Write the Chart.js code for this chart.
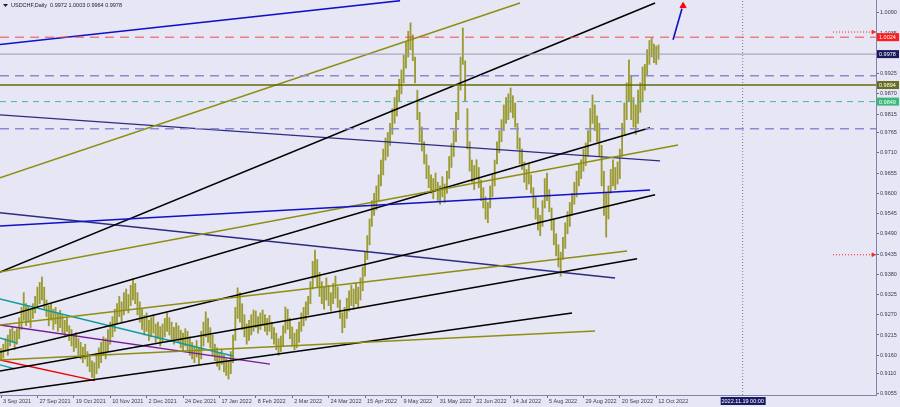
<!DOCTYPE html>
<html>
<head>
<meta charset="utf-8">
<script src="https://cdn.jsdelivr.net/npm/chart.js@4.4.0/dist/chart.umd.min.js"></script>
<style>
  html, body { margin: 0; padding: 0; background: #e6e6f5; }
  #wrap { width: 900px; height: 407px; }
</style>
</head>
<body>
<div id="wrap"><canvas id="usdchfChart" width="900" height="407"></canvas></div>
<script>
// x axis: bar index, 0 = 3 Sep 2021 (one bar per trading day)
const dateLabels = ['3 Sep 2021', '27 Sep 2021', '19 Oct 2021', '10 Nov 2021', '2 Dec 2021', '24 Dec 2021',
    '17 Jan 2022', '8 Feb 2022', '2 Mar 2022', '24 Mar 2022', '15 Apr 2022', '9 May 2022', '31 May 2022',
    '22 Jun 2022', '14 Jul 2022', '5 Aug 2022', '29 Aug 2022', '20 Sep 2022', '12 Oct 2022'];
const dateTickIndex = [0, 16, 32, 48, 64, 80, 96, 112, 128, 144, 160, 176, 192, 208, 224, 240, 256, 272, 288];

const yTickValues = [1.0090, 1.0035, 0.9980, 0.9925, 0.9870, 0.9815, 0.9765, 0.9710, 0.9655, 0.9600,
    0.9545, 0.9490, 0.9435, 0.9380, 0.9325, 0.9270, 0.9215, 0.9160, 0.9110, 0.9055];

// daily lows / highs
const lows = [
    0.9145, 0.9152, 0.9170, 0.9160, 0.9185, 0.9195, 0.9175, 0.9190, 0.9205, 0.9230,
    0.9255, 0.9240, 0.9250, 0.9235, 0.9260, 0.9275, 0.9290, 0.9300, 0.9310, 0.9285,
    0.9265, 0.9240, 0.9255, 0.9230, 0.9245, 0.9225, 0.9235, 0.9220, 0.9210, 0.9225,
    0.9200, 0.9185, 0.9170, 0.9180, 0.9160, 0.9150, 0.9140, 0.9150, 0.9130, 0.9115,
    0.9100, 0.9097, 0.9110, 0.9125, 0.9140, 0.9160, 0.9150, 0.9170, 0.9190, 0.9210,
    0.9225, 0.9245, 0.9265, 0.9250, 0.9270, 0.9285, 0.9275, 0.9295, 0.9310, 0.9300,
    0.9270, 0.9250, 0.9230, 0.9215, 0.9225, 0.9200, 0.9210, 0.9220, 0.9195, 0.9205,
    0.9185, 0.9195, 0.9210, 0.9225, 0.9215, 0.9200, 0.9190, 0.9205, 0.9195, 0.9180,
    0.9170, 0.9185, 0.9175, 0.9160, 0.9150, 0.9140, 0.9155, 0.9135, 0.9150, 0.9185,
    0.9210, 0.9195, 0.9180, 0.9160, 0.9145, 0.9130, 0.9120, 0.9135, 0.9115, 0.9105,
    0.9095, 0.9110, 0.9140, 0.9200, 0.9260, 0.9250, 0.9230, 0.9210, 0.9190, 0.9200,
    0.9215, 0.9225, 0.9235, 0.9220, 0.9230, 0.9240, 0.9225, 0.9215, 0.9225, 0.9205,
    0.9190, 0.9175, 0.9160, 0.9170, 0.9185, 0.9220, 0.9230, 0.9205, 0.9185, 0.9175,
    0.9180, 0.9195, 0.9225, 0.9240, 0.9255, 0.9270, 0.9300, 0.9340, 0.9370, 0.9345,
    0.9320, 0.9300, 0.9285, 0.9310, 0.9295, 0.9280, 0.9300, 0.9315, 0.9290, 0.9260,
    0.9221, 0.9235, 0.9260, 0.9280, 0.9295, 0.9285, 0.9300, 0.9290, 0.9310, 0.9335,
    0.9375, 0.9420, 0.9460, 0.9510, 0.9540, 0.9555, 0.9580, 0.9620, 0.9650, 0.9690,
    0.9700, 0.9730, 0.9760, 0.9790, 0.9810, 0.9850, 0.9870, 0.9900, 0.9940, 0.9970,
    0.9990, 0.9960, 0.9900, 0.9800, 0.9740, 0.9715, 0.9680, 0.9640, 0.9615, 0.9600,
    0.9585, 0.9605, 0.9580, 0.9570, 0.9590, 0.9575, 0.9600, 0.9640, 0.9670, 0.9700,
    0.9740, 0.9800, 0.9880, 0.9950, 0.9850, 0.9720, 0.9660, 0.9630, 0.9610, 0.9640,
    0.9615, 0.9580, 0.9560, 0.9530, 0.9520, 0.9560, 0.9590, 0.9620, 0.9680, 0.9710,
    0.9740, 0.9770, 0.9790, 0.9800, 0.9820, 0.9805, 0.9780, 0.9720, 0.9680, 0.9665,
    0.9630, 0.9610, 0.9625, 0.9600, 0.9560, 0.9530, 0.9500, 0.9485, 0.9510, 0.9560,
    0.9580, 0.9550, 0.9500, 0.9460, 0.9430, 0.9400, 0.9375, 0.9420, 0.9450, 0.9490,
    0.9510, 0.9540, 0.9570, 0.9590, 0.9620, 0.9640, 0.9660, 0.9675, 0.9700, 0.9740,
    0.9790, 0.9770, 0.9740, 0.9700, 0.9620, 0.9540, 0.9481, 0.9530, 0.9600, 0.9620,
    0.9610, 0.9625, 0.9640, 0.9700, 0.9760, 0.9800, 0.9850, 0.9800, 0.9780, 0.9760,
    0.9790, 0.9820, 0.9850, 0.9880, 0.9920, 0.9950, 0.9970, 0.9955, 0.9950, 0.9964
];
const highs = [
    0.9178, 0.9190, 0.9205, 0.9215, 0.9230, 0.9238, 0.9225, 0.9232, 0.9262, 0.9290,
    0.9330, 0.9300, 0.9295, 0.9282, 0.9300, 0.9320, 0.9345, 0.9358, 0.9372, 0.9345,
    0.9310, 0.9295, 0.9300, 0.9285, 0.9290, 0.9275, 0.9282, 0.9268, 0.9255, 0.9262,
    0.9240, 0.9230, 0.9215, 0.9222, 0.9205, 0.9195, 0.9182, 0.9190, 0.9170, 0.9160,
    0.9145, 0.9140, 0.9165, 0.9180, 0.9195, 0.9210, 0.9205, 0.9230, 0.9250, 0.9265,
    0.9285, 0.9300, 0.9320, 0.9305, 0.9330, 0.9340, 0.9325, 0.9350, 0.9368, 0.9355,
    0.9330, 0.9305, 0.9285, 0.9268, 0.9275, 0.9255, 0.9262, 0.9270, 0.9245, 0.9250,
    0.9238, 0.9245, 0.9260, 0.9275, 0.9262, 0.9250, 0.9236, 0.9248, 0.9240, 0.9228,
    0.9220, 0.9232, 0.9225, 0.9210, 0.9195, 0.9185, 0.9200, 0.9180, 0.9225, 0.9250,
    0.9278, 0.9260, 0.9235, 0.9215, 0.9190, 0.9180, 0.9165, 0.9175, 0.9160, 0.9150,
    0.9145, 0.9170, 0.9215, 0.9290, 0.9343, 0.9330, 0.9300, 0.9270, 0.9245, 0.9255,
    0.9270, 0.9283, 0.9280, 0.9265, 0.9275, 0.9283, 0.9270, 0.9260, 0.9268, 0.9250,
    0.9235, 0.9220, 0.9205, 0.9212, 0.9240, 0.9291, 0.9285, 0.9260, 0.9237, 0.9220,
    0.9230, 0.9250, 0.9275, 0.9290, 0.9305, 0.9320, 0.9360, 0.9415, 0.9446, 0.9420,
    0.9385, 0.9360, 0.9345, 0.9370, 0.9350, 0.9330, 0.9355, 0.9375, 0.9345, 0.9310,
    0.9275, 0.9290, 0.9315, 0.9335, 0.9350, 0.9340, 0.9356, 0.9345, 0.9370, 0.9400,
    0.9440, 0.9485, 0.9530, 0.9580, 0.9600, 0.9620, 0.9650, 0.9690, 0.9720, 0.9750,
    0.9765, 0.9790, 0.9830, 0.9860, 0.9880, 0.9910, 0.9935, 0.9975, 1.0010, 1.0040,
    1.0063, 1.0030, 0.9970, 0.9880, 0.9820, 0.9780, 0.9740, 0.9705, 0.9675, 0.9650,
    0.9640, 0.9655, 0.9630, 0.9620, 0.9645, 0.9625, 0.9660, 0.9700, 0.9735, 0.9770,
    0.9820, 0.9890, 0.9970, 1.0049, 0.9960, 0.9830, 0.9740, 0.9690, 0.9675, 0.9691,
    0.9670, 0.9636, 0.9615, 0.9590, 0.9575, 0.9620, 0.9650, 0.9690, 0.9740, 0.9770,
    0.9800, 0.9840, 0.9860, 0.9870, 0.9886, 0.9865, 0.9845, 0.9790, 0.9750, 0.9720,
    0.9685, 0.9665, 0.9680, 0.9650, 0.9615, 0.9590, 0.9560, 0.9540, 0.9580, 0.9640,
    0.9655, 0.9610, 0.9560, 0.9530, 0.9490, 0.9460, 0.9440, 0.9480, 0.9520, 0.9550,
    0.9575, 0.9600, 0.9630, 0.9660, 0.9680, 0.9691, 0.9720, 0.9737, 0.9770, 0.9830,
    0.9867, 0.9840, 0.9810, 0.9790, 0.9730, 0.9660, 0.9600, 0.9620, 0.9665, 0.9691,
    0.9670, 0.9685, 0.9720, 0.9790, 0.9845, 0.9900, 0.9962, 0.9920, 0.9860, 0.9840,
    0.9880, 0.9900, 0.9943, 0.9950, 0.9990, 1.0015, 1.0022, 1.0005, 1.0000, 1.0003
];
const lastBar = [0.9972, 1.0003, 0.9964, 0.9978]; // open high low close

// trend lines: [index1, price1, index2, price2]
const blueLines = [[-0.44, 1.0004, 175.4, 1.0123], [-0.44, 0.9511, 285.3, 0.9609], [295.4, 1.0017, 299.3, 1.0101]];
const oliveLines = [[-0.44, 0.9642, 228.1, 1.0117], [-0.44, 0.9386, 297.6, 0.9731],
    [-0.44, 0.9242, 275.2, 0.9443], [-0.44, 0.9147, 261.1, 0.9226]];
const blackLines = [[-0.44, 0.9386, 287.5, 1.0117], [-0.44, 0.9261, 285.3, 0.9778], [-0.44, 0.9169, 287.5, 0.9596],
    [-0.44, 0.9117, 279.6, 0.9422], [-0.44, 0.9058, 251.0, 0.9275]];
const navyLines = [[-0.44, 0.9813, 289.7, 0.9688], [-0.44, 0.9547, 269.9, 0.9370]];
const tealLines = [[-0.44, 0.9313, 102.0, 0.9158], [-0.44, 0.9207, 7.0, 0.9193], [-0.44, 0.9134, 6.2, 0.9123]];
const purpleLines = [[-0.44, 0.9242, 118.2, 0.9136]];
const redLines = [[-0.44, 0.9147, 41.3, 0.9091]];
const arrowTip = [299.8, 1.0109];

// horizontal levels
const bidLevel = 0.9978;
const redLevel = 1.0024;
const dashLevels = [0.9919, 0.9775];
const oliveLevel = 0.9894;
const tealLevel = 0.9849;
const alertLevels = [1.0038, 0.9433];
const alertStart = 365.7;
const timeLineIndex = 326;
const timeLabel = '2022.11.19 00:00';

const xMin = -0.44, xMax = 384.6;
const yMin = 0.9052, yMax = 1.0125;

Chart.defaults.font.family = 'Liberation Sans';
Chart.defaults.font.size = 5.5;
Chart.defaults.color = '#3a3a55';

function lineSet(list, color, width, dash) {
    return list.map(l => ({
        type: 'line',
        data: [{ x: l[0], y: l[1] }, { x: l[2], y: l[3] }],
        borderColor: color,
        borderWidth: width,
        borderDash: dash || [],
        pointRadius: 0,
        fill: false,
        order: 0
    }));
}
function level(p) { return [[xMin, p, xMax, p]]; }

const bars = lows.map((l, i) => ({ x: i, y: [l, highs[i]] }));

const datasets = [].concat(
    lineSet(level(redLevel), '#f04848', 1, [9, 6]),
    lineSet(level(bidLevel), '#9a9aae', 1),
    lineSet(dashLevels.map(p => [xMin, p, xMax, p]), '#8a8ad0', 1.5, [9, 6]),
    lineSet(level(oliveLevel), '#66680e', 1.5),
    lineSet(level(tealLevel), '#4cb49a', 1, [6, 5]),
    lineSet(alertLevels.map(p => [alertStart, p, xMax, p]), '#ff2020', 1, [1, 2]),
    lineSet([[timeLineIndex, yMin, timeLineIndex, yMax]], '#7c7c90', 1, [1, 2]),
    lineSet(blueLines, '#1010c8', 1.6),
    lineSet(oliveLines, '#8e8e12', 1.5),
    lineSet(blackLines, '#000000', 1.5),
    lineSet(navyLines, '#2c2c80', 1.4),
    lineSet(tealLines, '#0e9c9c', 1.4),
    lineSet(purpleLines, '#7a1a9a', 1.4),
    lineSet(redLines, '#ee0000', 1.4),
    [{
        type: 'scatter',
        data: [{ x: arrowTip[0], y: arrowTip[1] }],
        pointStyle: 'triangle',
        pointRadius: 3.5,
        backgroundColor: '#ff0000',
        borderColor: '#ff0000',
        order: 0
    }, {
        type: 'scatter',
        data: alertLevels.map(p => ({ x: xMax - 1.3, y: p })),
        pointStyle: 'triangle',
        rotation: 90,
        pointRadius: 2,
        backgroundColor: '#ff2020',
        borderColor: '#ff2020',
        order: 0
    }, {
        type: 'bar',
        data: bars,
        backgroundColor: '#9b9b34',
        borderWidth: 0,
        barThickness: 1.2,
        grouped: false,
        order: 10
    }]
);

const mtPlugin = {
    id: 'mtDecor',
    beforeDraw(chart) {
        const ctx = chart.ctx;
        ctx.save();
        ctx.fillStyle = '#e6e6f5';
        ctx.fillRect(0, 0, chart.width, chart.height);
        ctx.restore();
    },
    afterDraw(chart) {
        const ctx = chart.ctx;
        const y = chart.scales.y;
        const x = chart.scales.x;
        ctx.save();
        ctx.font = '5.5px "Liberation Sans"';
        ctx.textBaseline = 'middle';
        // price boxes on the right axis
        const boxes = [[redLevel, '#ff1c1c'], [bidLevel, '#1a1a5c'], [oliveLevel, '#6a6e22'], [tealLevel, '#3cb87a']];
        boxes.forEach(b => {
            const py = y.getPixelForValue(b[0]);
            ctx.fillStyle = b[1];
            ctx.fillRect(y.left + 1, py - 4, 22, 8);
            ctx.fillStyle = '#ffffff';
            ctx.textAlign = 'left';
            ctx.fillText(b[0].toFixed(4), y.left + 3, py + 0.5);
        });
        // time label box
        const tx = x.getPixelForValue(timeLineIndex);
        ctx.fillStyle = '#1c1c66';
        ctx.fillRect(tx - 22, x.top + 2, 45, 8);
        ctx.fillStyle = '#ffffff';
        ctx.textAlign = 'center';
        ctx.fillText(timeLabel, tx, x.top + 6.5);
        // title
        ctx.fillStyle = '#1a1a30';
        ctx.beginPath();
        ctx.moveTo(3, 4); ctx.lineTo(8, 4); ctx.lineTo(5.5, 7); ctx.closePath();
        ctx.fill();
        ctx.textAlign = 'left';
        ctx.fillText('USDCHF,Daily  ' + lastBar.map(v => v.toFixed(4)).join(' '), 11, 5.5);
        ctx.restore();
    }
};

new Chart(document.getElementById('usdchfChart'), {
    type: 'bar',
    data: { datasets: datasets },
    options: {
        responsive: false,
        devicePixelRatio: 1,
        animation: false,
        layout: { padding: 0, autoPadding: false },
        plugins: { legend: { display: false }, tooltip: { enabled: false } },
        scales: {
            x: {
                type: 'linear',
                min: xMin,
                max: xMax,
                offset: false,
                afterFit: s => { s.height = 12; s.paddingLeft = 0; s.paddingRight = 0; },
                afterBuildTicks: s => { s.ticks = dateTickIndex.map(v => ({ value: v })); },
                grid: { display: true, drawOnChartArea: false, offset: false, tickLength: 3, color: '#6a6a8a' },
                border: { display: true, color: '#8282aa', width: 1 },
                ticks: {
                    autoSkip: false,
                    maxRotation: 0,
                    align: 'start',
                    labelOffset: 2,
                    padding: 0,
                    callback: (v, i) => dateLabels[i]
                }
            },
            y: {
                position: 'right',
                min: yMin,
                max: yMax,
                afterFit: s => { s.width = 24; s.paddingTop = 0; s.paddingBottom = 0; },
                afterBuildTicks: s => { s.ticks = yTickValues.map(v => ({ value: v })); },
                grid: { display: true, drawOnChartArea: false, tickLength: 3, color: '#6a6a8a' },
                border: { display: true, color: '#8282aa', width: 1 },
                ticks: {
                    autoSkip: false,
                    padding: 1,
                    callback: v => v.toFixed(4)
                }
            }
        }
    },
    plugins: [mtPlugin]
});
</script>
</body>
</html>
